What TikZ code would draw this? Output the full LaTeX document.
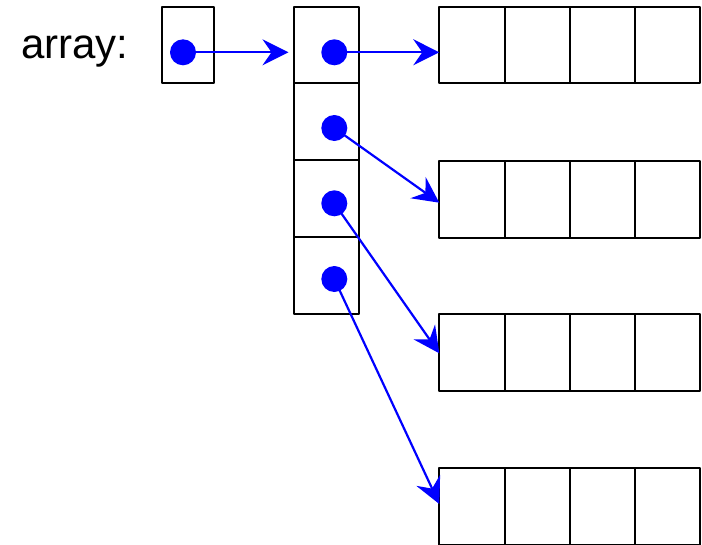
\documentclass[tikz,border=0pt]{standalone}
\usepackage{fontspec}
\setmainfont{Liberation Sans}
\usetikzlibrary{arrows.meta}
\definecolor{ptrblue}{RGB}{0,0,255}
\tikzset{
  cell/.style={draw=black, line width=2pt, line join=round, rectangle, inner sep=0pt, minimum width=65.2pt, minimum height=76.8pt},
  smallcell/.style={cell, minimum width=52pt},
  dot/.style={circle, fill=ptrblue, inner sep=0pt, minimum size=26pt},
  ptr/.style={draw=ptrblue, line width=2.2pt, -{Stealth[length=26pt,width=26pt,inset=9pt]}}
}
\begin{document}
\begin{tikzpicture}
\useasboundingbox (0pt,0pt) rectangle (702pt,-544pt);
\node[font=\fontsize{42}{50}\selectfont] (lbl) at (75pt,-52pt) {array:};
% small box
\node[smallcell] (s) at (188.3pt,-44.9pt) {};
% column
\node[cell] (c1) at (326.7pt,-44.9pt) {};
\node[cell] (c2) at (326.7pt,-121.7pt) {};
\node[cell] (c3) at (326.7pt,-198.5pt) {};
\node[cell] (c4) at (326.7pt,-275.3pt) {};
% arrays
\foreach \r/\y in {1/44.9,2/199.3,3/352.2,4/506.5}{
  \foreach \k/\x in {1/471.9,2/537.1,3/602.3,4/667.5}{
    \node[cell] (a\r\k) at (\x pt,-\y pt) {};
  }
}
% dots
\node[dot] (ds) at (183pt,-52.3pt) {};
\node[dot] (d1) at (334.3pt,-52.3pt) {};
\node[dot] (d2) at (334.3pt,-128pt) {};
\node[dot] (d3) at (334.3pt,-203.3pt) {};
\node[dot] (d4) at (334.3pt,-279pt) {};
% pointers
\coordinate (t0) at (288.5pt,-52.3pt);
\coordinate (t1) at (439.3pt,-52.3pt);
\coordinate (t2) at (439.3pt,-202.7pt);
\coordinate (t3) at (439.3pt,-353.3pt);
\coordinate (t4) at (439.3pt,-504pt);
\draw[ptr] (ds.center) -- (t0);
\draw[ptr] (d1.center) -- (t1);
\draw[ptr] (d2.center) -- (t2);
\draw[ptr] (d3.center) -- (t3);
\draw[ptr] (d4.center) -- (t4);
\end{tikzpicture}
\end{document}
